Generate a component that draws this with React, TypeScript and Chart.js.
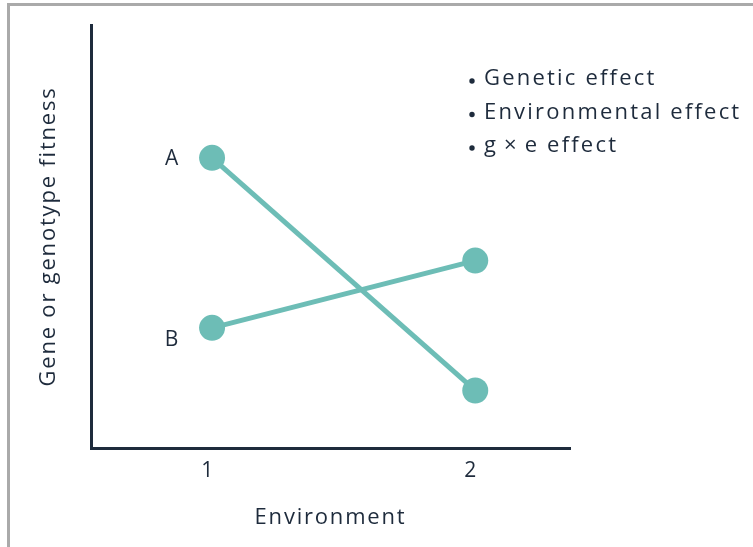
import React, { useEffect, useRef } from "react";
import { Chart, registerables } from "chart.js";

Chart.register(...registerables);

const ENVIRONMENTS = [1, 2];
const SERIES_NAMES = ["A", "B"];
const SERIES_A = [6.86, 1.36];
const SERIES_B = [2.84, 4.43];
const LEGEND_ITEMS = ["Genetic effect", "Environmental effect", "g\u2009\u00d7\u2009e effect"];
const X_TITLE = "Environment";
const Y_TITLE = "Gene or genotype fitness";

const TEAL = "#6dbdb6";
const INK = "#1e2b3c";
const FONT = "'Open Sans', Lato, sans-serif";
const SPACING = "1.8px";

const spacing = {
  id: "spacing",
  beforeDraw(chart: any) {
    chart.ctx.letterSpacing = SPACING;
  },
};

const annotations = {
  id: "annotations",
  afterDatasetsDraw(chart: any) {
    const { ctx, chartArea } = chart;
    ctx.save();
    ctx.letterSpacing = SPACING;
    ctx.fillStyle = INK;
    ctx.font = `21px ${FONT}`;
    ctx.textBaseline = "middle";
    chart.data.datasets.forEach((ds: any, i: number) => {
      const meta = chart.getDatasetMeta(i);
      const p = meta.data[0];
      ctx.textAlign = "right";
      ctx.fillText(ds.label, p.x - 32, p.y + (i === 1 ? 12 : 1));
    });
    ctx.textAlign = "left";
    ctx.font = `22px ${FONT}`;
    const x0 = chartArea.right - 98;
    LEGEND_ITEMS.forEach((t, i) => {
      const y = chartArea.top + 54 + i * 33.5;
      ctx.beginPath();
      ctx.arc(x0, y + 2, 2.7, 0, Math.PI * 2);
      ctx.fill();
      ctx.letterSpacing = "2.2px";
      ctx.fillText(t, x0 + 12, y);
    });
    ctx.restore();
  },
};

export default function App() {
  const ref = useRef<HTMLCanvasElement>(null);
  useEffect(() => {
    const chart = new Chart(ref.current!, {
      type: "line",
      data: {
        datasets: [SERIES_A, SERIES_B].map((vals, i) => ({
          label: SERIES_NAMES[i],
          data: ENVIRONMENTS.map((e, j) => ({ x: e, y: vals[j] })),
          borderColor: TEAL,
          backgroundColor: TEAL,
          borderWidth: 5,
          pointRadius: 13,
          pointBorderWidth: 0,
          pointBackgroundColor: TEAL,
        })),
      },
      options: {
        animation: false,
        responsive: false,
        events: [],
        layout: { padding: { top: 25, right: 183, left: 0, bottom: 0 } },
        plugins: { legend: { display: false }, tooltip: { enabled: false } },
        scales: {
          x: {
            type: "linear",
            min: 0.54,
            max: 2.36,
            afterBuildTicks: (s: any) => {
              s.ticks = ENVIRONMENTS.map((v) => ({ value: v }));
            },
            afterFit: (s: any) => {
              s.height = 99;
            },
            grid: { display: false, drawTicks: false },
            border: { display: true, color: INK, width: 3 },
            ticks: {
              color: INK,
              font: { family: FONT, size: 21 },
              padding: 10,
              labelOffset: -4,
              callback: (v: any) => String(v),
            },
            title: {
              display: true,
              text: X_TITLE,
              color: INK,
              font: { family: FONT, size: 22 },
              padding: { top: 0, bottom: 16 },
            },
          },
          y: {
            min: 0,
            max: 10,
            afterFit: (s: any) => {
              s.width = 91;
            },
            grid: { display: false, drawTicks: false },
            border: { display: true, color: INK, width: 3 },
            ticks: { display: false },
            title: {
              display: true,
              text: Y_TITLE,
              color: INK,
              font: { family: FONT, size: 22 },
              padding: { top: 36, bottom: 0 },
            },
          },
        },
      },
      plugins: [spacing, annotations],
    });
    return () => chart.destroy();
  }, []);
  return (
    <div style={{ position: "fixed", left: 0, top: 0, width: 753, height: 547, background: "#fff" }}>
      <div
        style={{
          position: "absolute",
          left: 7,
          top: 3,
          width: 746,
          height: 544,
          borderTop: "3px solid #aaaaaa",
          borderLeft: "3px solid #aaaaaa",
          boxSizing: "border-box",
        }}
      />
      <canvas ref={ref} width={753} height={547} style={{ position: "absolute", left: 0, top: 0 }} />
    </div>
  );
}
